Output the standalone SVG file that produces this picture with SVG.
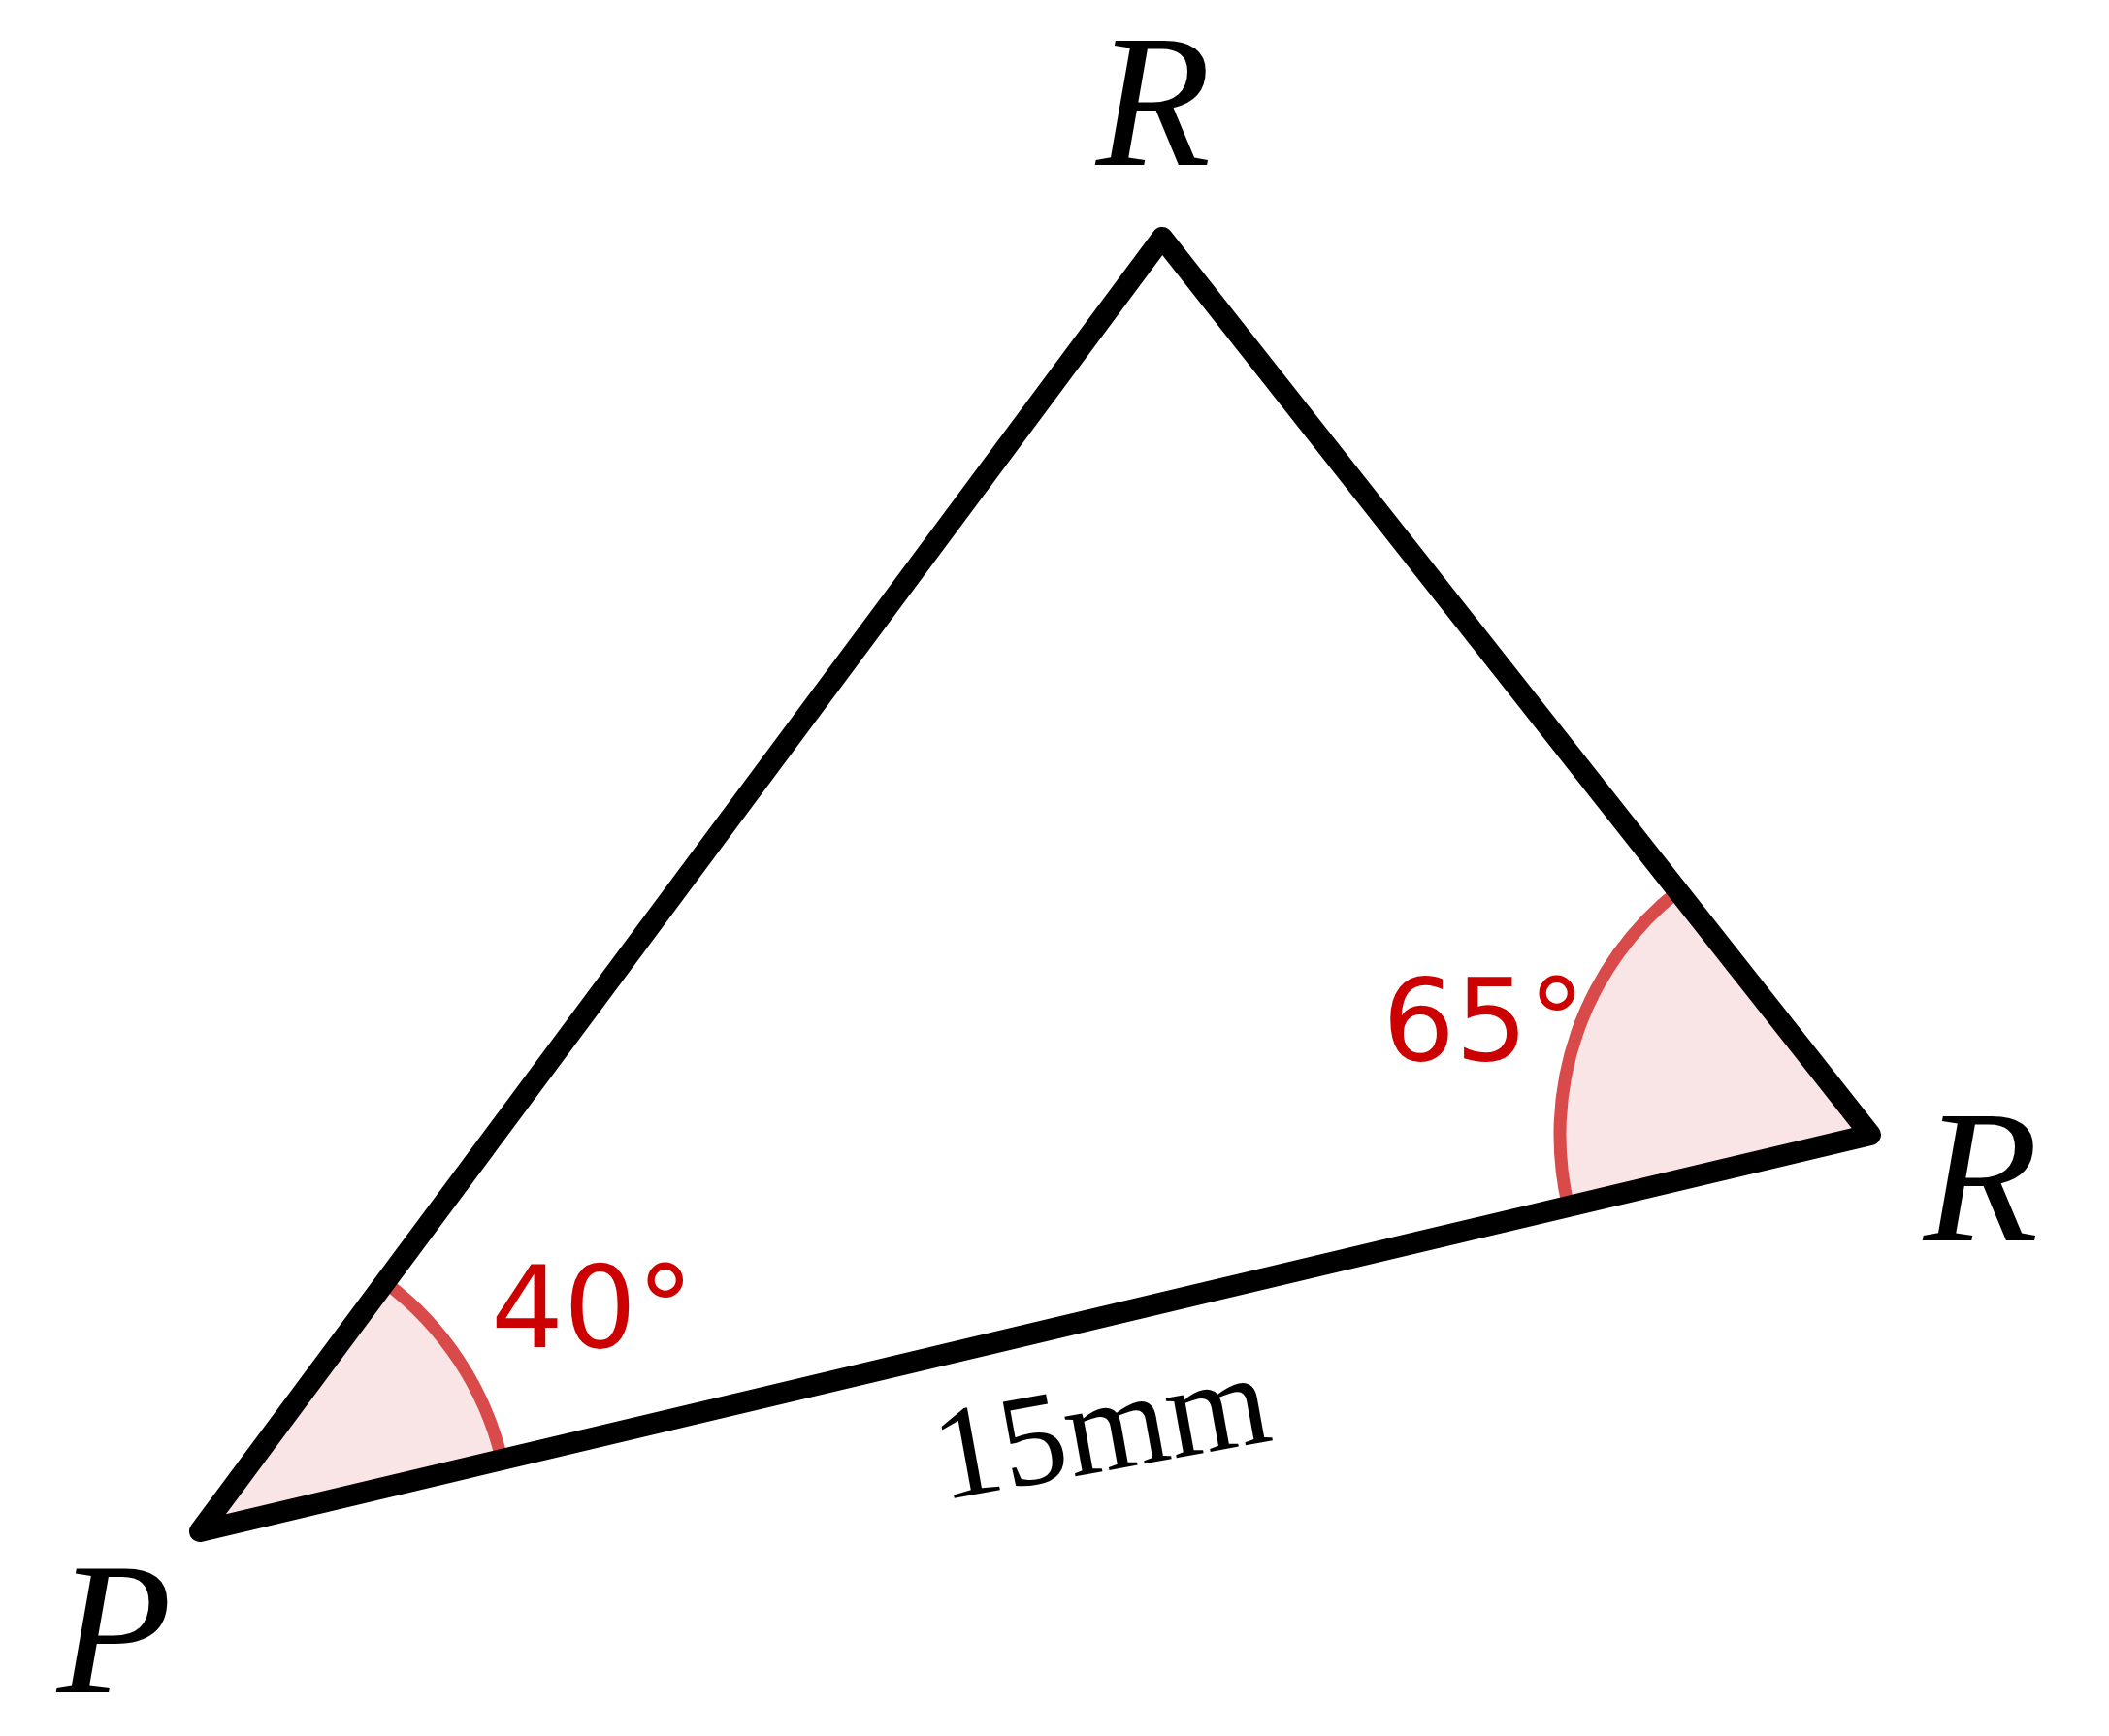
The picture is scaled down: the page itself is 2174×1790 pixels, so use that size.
<svg xmlns="http://www.w3.org/2000/svg" width="2174" height="1790" viewBox="0 0 2174 1790">
<style>
.sector{fill:#f9e5e6;stroke:none}
.arc{fill:none;stroke:#d94a4a;stroke-width:13}
.edge{fill:none;stroke:#000;stroke-width:22;stroke-linejoin:round;stroke-linecap:round}
.vlabel{font-family:"Liberation Serif",serif;font-style:italic;font-size:194px;fill:#000;text-anchor:middle}
.angle{font-family:"DejaVu Sans",sans-serif;font-size:118px;fill:#cc0000}
.len{font-family:"Liberation Serif",serif;font-size:136px;fill:#000;text-anchor:middle}
</style>
<rect width="2174" height="1790" fill="#fff"/>
<g id="angle-P">
<path class="sector" d="M206,1579 L517.3,1505.05 A320,320 0 0 0 396.95,1322.22 Z"/>
<path class="arc" d="M517.3,1505.05 A320,320 0 0 0 396.95,1322.22"/>
<text class="angle" x="506" y="1389">40°</text>
</g>
<g id="angle-R">
<path class="sector" d="M1928,1170 L1616.66,1243.95 A320,320 0 0 1 1729.76,918.81 Z"/>
<path class="arc" d="M1616.66,1243.95 A320,320 0 0 1 1729.76,918.81"/>
<text class="angle" x="1425" y="1093">65°</text>
</g>
<g id="connectors">
<path class="edge" d="M206,1579 L1198,245 L1928,1170 Z"/>
</g>
<g id="node-P"><text class="vlabel" x="118" y="1745">P</text></g>
<g id="node-R-top"><text class="vlabel" x="1189" y="170">R</text></g>
<g id="node-R-right"><text class="vlabel" x="2042" y="1279">R</text></g>
<g id="label-side"><text class="len" x="1143" y="1516" transform="rotate(-10.3 1143 1516)">15mm</text></g>
</svg>
